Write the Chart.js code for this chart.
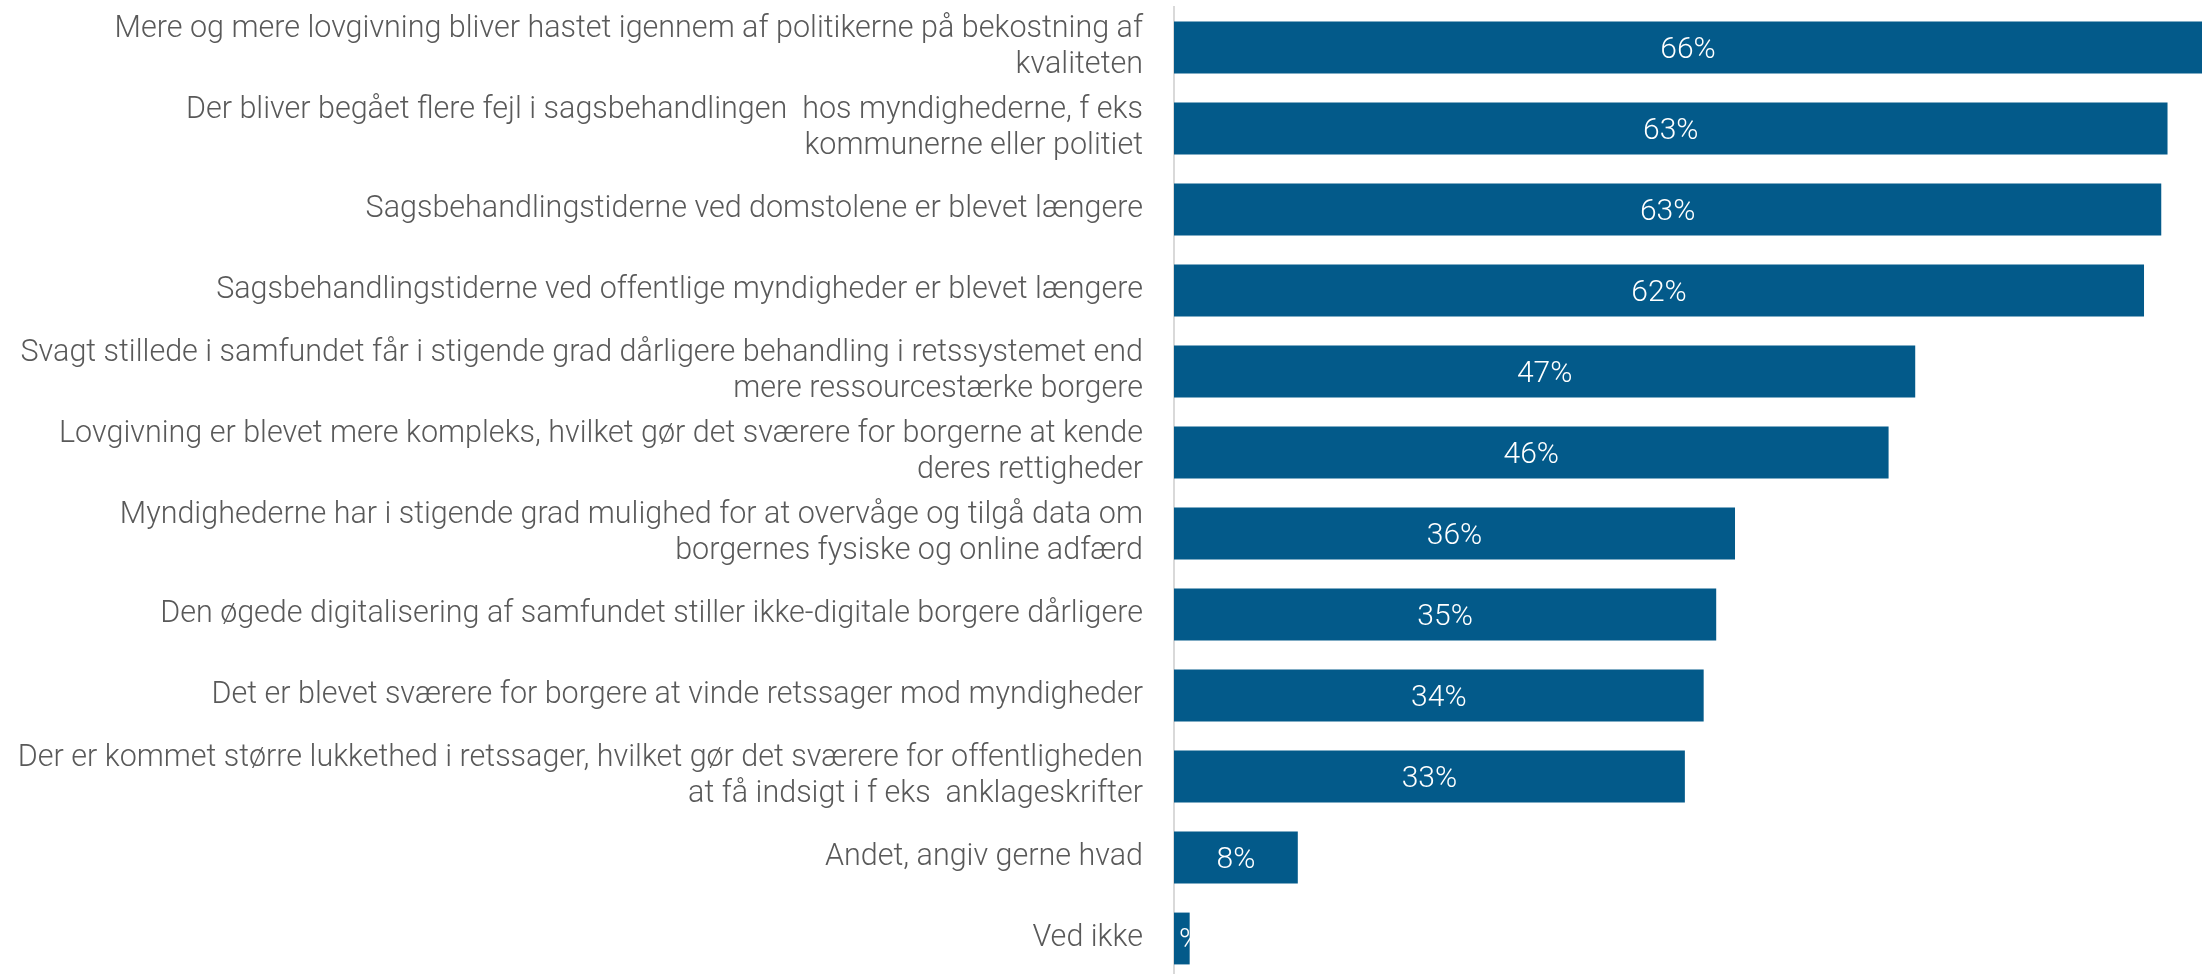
<!DOCTYPE html>
<html>
<head>
<meta charset="utf-8">
<script src="https://cdn.jsdelivr.net/npm/chart.js@4"></script>
<style>
  html, body { margin: 0; padding: 0; background: #fff; overflow: hidden; }
  .chart-container { position: relative; width: 2202px; height: 979px; }
</style>
</head>
<body>
<div class="chart-container">
  <canvas id="chart"></canvas>
</div>
<script>
const categories = [
  ['Mere og mere lovgivning bliver hastet igennem af politikerne på bekostning af', 'kvaliteten'],
  ['Der bliver begået flere fejl i sagsbehandlingen  hos myndighederne, f eks', 'kommunerne eller politiet'],
  'Sagsbehandlingstiderne ved domstolene er blevet længere',
  'Sagsbehandlingstiderne ved offentlige myndigheder er blevet længere',
  ['Svagt stillede i samfundet får i stigende grad dårligere behandling i retssystemet end', 'mere ressourcestærke borgere'],
  ['Lovgivning er blevet mere kompleks, hvilket gør det sværere for borgerne at kende', 'deres rettigheder'],
  ['Myndighederne har i stigende grad mulighed for at overvåge og tilgå data om', 'borgernes fysiske og online adfærd'],
  'Den øgede digitalisering af samfundet stiller ikke-digitale borgere dårligere',
  'Det er blevet sværere for borgere at vinde retssager mod myndigheder',
  ['Der er kommet større lukkethed i retssager, hvilket gør det sværere for offentligheden', 'at få indsigt i f eks  anklageskrifter'],
  'Andet, angiv gerne hvad',
  'Ved ikke'
];
const shares = [66.2, 63.4, 63.0, 61.9, 47.3, 45.6, 35.8, 34.6, 33.8, 32.6, 7.9, 1.0];
const axisMax = 65.6;

const FONT = 'Roboto, "Noto Sans", sans-serif';

// étiquettes de valeur au milieu de chaque barre
const valueLabels = {
  id: 'valueLabels',
  afterDatasetsDraw(chart) {
    const ctx = chart.ctx;
    const area = chart.chartArea;
    const meta = chart.getDatasetMeta(0);
    ctx.save();
    ctx.fillStyle = '#ffffff';
    ctx.font = '300 30px ' + FONT;
    ctx.textAlign = 'center';
    ctx.textBaseline = 'middle';
    meta.data.forEach((bar, i) => {
      const right = Math.min(bar.x, area.right);
      const cx = (bar.base + right) / 2;
      ctx.fillText(Math.round(shares[i]) + '%', cx, bar.y + 3);
    });
    ctx.restore();
  }
};

new Chart(document.getElementById('chart'), {
  type: 'bar',
  data: {
    labels: categories,
    datasets: [{
      data: shares,
      backgroundColor: '#035a8a',
      borderWidth: 0,
      barPercentage: 0.64,
      categoryPercentage: 1
    }]
  },
  options: {
    indexAxis: 'y',
    responsive: true,
    maintainAspectRatio: false,
    animation: false,
    layout: { padding: { top: 7, right: 0, bottom: 0, left: 0 } },
    plugins: {
      legend: { display: false },
      tooltip: { enabled: false }
    },
    scales: {
      x: {
        display: false,
        min: 0,
        max: axisMax
      },
      y: {
        afterFit(scale) {
          scale.width = 1174;
          scale.paddingTop = 0;
          scale.paddingBottom = 0;
        },
        grid: { display: false, drawTicks: false },
        border: { display: true, color: '#d9d9d9', width: 2 },
        ticks: {
          autoSkip: false,
          padding: 31,
          color: '#595959',
          font: { family: FONT, size: 30.5, weight: 300, lineHeight: 1.2 }
        }
      }
    }
  },
  plugins: [valueLabels]
});
</script>
</body>
</html>
